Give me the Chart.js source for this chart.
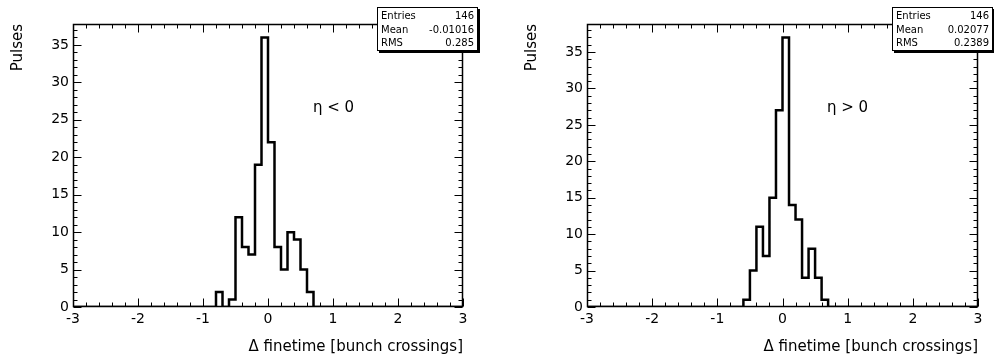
<!DOCTYPE html>
<html><head><meta charset="utf-8">
<script src="https://cdn.jsdelivr.net/npm/chart.js@4/dist/chart.umd.min.js"></script>
<style>
html,body{margin:0;padding:0;background:#fff;}
#wrap{position:relative;width:994px;height:360px;background:#fff;}
.panel{position:absolute;top:0;width:497px;height:360px;}
</style></head><body>
<div id="wrap">
<div class="panel" style="left:0"><canvas id="c1" width="497" height="360"></canvas></div>
<div class="panel" style="left:497px"><canvas id="c2" width="497" height="360"></canvas></div>
</div>
<script>
// ---- data ----
const xTicks = [-3, -2, -1, 0, 1, 2, 3];
const yTicks = [0, 5, 10, 15, 20, 25, 30, 35];
const xRange = [-3, 3];
const leftEdges  = [-0.8, -0.7, -0.6, -0.5, -0.4, -0.3, -0.2, -0.1, 0, 0.1, 0.2, 0.3, 0.4, 0.5, 0.6, 0.7];
const leftCounts = [2, 0, 1, 12, 8, 7, 19, 36, 22, 8, 5, 10, 9, 5, 2];
const rightEdges  = [-0.6, -0.5, -0.4, -0.3, -0.2, -0.1, 0, 0.1, 0.2, 0.3, 0.4, 0.5, 0.6, 0.7];
const rightCounts = [1, 5, 11, 7, 15, 27, 37, 14, 12, 4, 8, 4, 1];
const leftYMax = 37.8;
const rightYMax = 38.85;
const leftStats  = [["Entries", "146"], ["Mean", "-0.01016"], ["RMS", "0.285"]];
const rightStats = [["Entries", "146"], ["Mean", "0.02077"], ["RMS", "0.2389"]];
const leftLabel = "\u03b7 < 0";
const rightLabel = "\u03b7 > 0";
const xTitle = "\u0394 finetime [bunch crossings]";
const yTitle = "Pulses";

const FONT = "'DejaVu Sans', sans-serif";

function histPoints(edges, counts) {
  const pts = [{x: xRange[0], y: 0}];
  counts.forEach((c, i) => pts.push({x: edges[i], y: c}));
  pts.push({x: edges[edges.length - 1], y: 0});
  pts.push({x: xRange[1], y: 0});
  return pts;
}

const rootPlugin = {
  id: 'rootStyle',
  afterDatasetsDraw(chart, args, o) {
    const ctx = chart.ctx, a = chart.chartArea;
    const xs = chart.scales.x, ys = chart.scales.y;
    ctx.save();
    ctx.strokeStyle = '#000';
    ctx.lineWidth = 1;
    const L = Math.round(a.left) + 0.5, R = Math.round(a.right) - 0.5;
    const T = Math.round(a.top) + 0.5, B = Math.round(a.bottom) - 0.5;
    ctx.beginPath();
    // x ticks (major every unit, minor every 0.2)
    for (let i = 0; i < xTicks.length; i++) {
      const v = xTicks[i];
      const px = Math.round(xs.getPixelForValue(v)) + 0.5;
      ctx.moveTo(px, B); ctx.lineTo(px, B - 8);
      ctx.moveTo(px, T); ctx.lineTo(px, T + 8);
      if (i < xTicks.length - 1) {
        for (let k = 1; k < 5; k++) {
          const m = Math.round(xs.getPixelForValue(v + k * (xTicks[i + 1] - v) / 5)) + 0.5;
          ctx.moveTo(m, B); ctx.lineTo(m, B - 4);
          ctx.moveTo(m, T); ctx.lineTo(m, T + 4);
        }
      }
    }
    // y ticks (major every 5, minor every 1)
    for (let i = 0; i < yTicks.length; i++) {
      const v = yTicks[i];
      const py = Math.round(ys.getPixelForValue(v)) + 0.5;
      ctx.moveTo(L, py); ctx.lineTo(L + 8, py);
      ctx.moveTo(R, py); ctx.lineTo(R - 8, py);
      const step = (yTicks[1] - yTicks[0]) / 5;
      for (let k = 1; k < 5; k++) {
        const mv = v + k * step;
        if (mv > ys.max) break;
        const m = Math.round(ys.getPixelForValue(mv)) + 0.5;
        ctx.moveTo(L, m); ctx.lineTo(L + 4, m);
        ctx.moveTo(R, m); ctx.lineTo(R - 4, m);
      }
    }
    ctx.stroke();
    // frame
    ctx.lineWidth = 1.5;
    ctx.strokeRect(a.left + 0.5, a.top + 0.5, a.right - a.left - 1, a.bottom - a.top - 1);
    ctx.restore();
  },
  afterDraw(chart, args, o) {
    const ctx = chart.ctx, a = chart.chartArea;
    ctx.save();
    ctx.fillStyle = '#000';
    // y title
    ctx.font = "15px " + FONT;
    ctx.save();
    ctx.translate(a.left - 55, a.top);
    ctx.rotate(-Math.PI / 2);
    ctx.textAlign = 'right';
    ctx.textBaseline = 'middle';
    ctx.fillText(yTitle, 0, 0);
    ctx.restore();
    // x title
    ctx.textAlign = 'right';
    ctx.textBaseline = 'middle';
    ctx.fillText(xTitle, a.right, 347);
    // eta label
    ctx.textAlign = 'left';
    ctx.fillText(o.label, a.left + 240, 108);
    // stats box
    const bx = a.right - 86, by = 7, bw = 101, bh = 44;
    ctx.fillStyle = '#000';
    ctx.fillRect(bx + 2, by + 2, bw, bh);
    ctx.fillStyle = '#fff';
    ctx.fillRect(bx, by, bw, bh);
    ctx.strokeStyle = '#000';
    ctx.lineWidth = 1;
    ctx.strokeRect(bx + 0.5, by + 0.5, bw - 1, bh - 1);
    ctx.fillStyle = '#000';
    ctx.font = "10px " + FONT;
    const rows = [16, 30, 43];
    o.stats.forEach((r, i) => {
      ctx.textAlign = 'left';
      ctx.fillText(r[0], bx + 4, rows[i]);
      ctx.textAlign = 'right';
      ctx.fillText(r[1], bx + bw - 4, rows[i]);
    });
    ctx.restore();
  }
};

function makeChart(id, edges, counts, yMax, stats, label, yAxisWidth, rightPad) {
  return new Chart(document.getElementById(id), {
    type: 'line',
    data: {
      datasets: [{
        data: histPoints(edges, counts),
        stepped: 'before',
        borderColor: '#000',
        borderWidth: 2.5,
        pointRadius: 0,
        fill: false,
        tension: 0
      }]
    },
    plugins: [rootPlugin],
    options: {
      responsive: false,
      animation: false,
      devicePixelRatio: 1,
      layout: { padding: { left: 0, top: 24, right: rightPad, bottom: 0 } },
      plugins: {
        legend: { display: false },
        tooltip: { enabled: false },
        rootStyle: { stats: stats, label: label }
      },
      scales: {
        x: {
          type: 'linear', min: xRange[0], max: xRange[1],
          grid: { display: false, drawTicks: false },
          border: { display: false },
          ticks: { color: '#000', font: { family: FONT, size: 14 }, padding: 4, maxRotation: 0, autoSkip: false },
          afterBuildTicks(s) { s.ticks = xTicks.map(v => ({ value: v })); },
          afterFit(s) { s.height = 53; }
        },
        y: {
          type: 'linear', min: 0, max: yMax,
          grid: { display: false, drawTicks: false },
          border: { display: false },
          ticks: { color: '#000', font: { family: FONT, size: 14 }, padding: 4, autoSkip: false },
          afterBuildTicks(s) { s.ticks = yTicks.map(v => ({ value: v })); },
          afterFit(s) { s.width = yAxisWidth; }
        }
      }
    }
  });
}

makeChart('c1', leftEdges, leftCounts, leftYMax, leftStats, leftLabel, 73, 34);
makeChart('c2', rightEdges, rightCounts, rightYMax, rightStats, rightLabel, 90, 16);
</script>
</body></html>
